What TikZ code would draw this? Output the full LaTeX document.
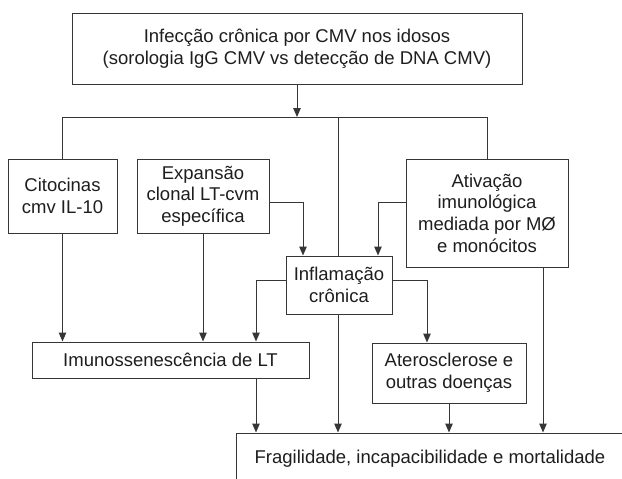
\documentclass[tikz,border=0pt]{standalone}
\usepackage{fontspec}
\setmainfont{Liberation Sans}
\usetikzlibrary{arrows.meta}
\definecolor{linec}{HTML}{363636}
\definecolor{txtc}{HTML}{1E1E1E}
\begin{document}
\begin{tikzpicture}[x=1pt,y=-1pt,
  box/.style={draw=linec, line width=1pt, align=center, inner sep=0pt, text=txtc,
    font=\fontsize{18.5}{21.7}\selectfont},
  arr/.style={draw=linec, line width=1pt, -{Triangle[width=7.5pt,length=9pt]}},
  ln/.style={draw=linec, line width=1pt}]
\clip (0,0) rectangle (622,479);
\fill[white] (0,0) rectangle (622,479);
% boxes
\node[box, minimum width=450pt, minimum height=71pt] (top) at (297,48.5)
  {Infecção crônica por CMV nos idosos\\(sorologia IgG CMV vs detecção de DNA CMV)};
\node[box, minimum width=109pt, minimum height=74pt] (cito) at (62.5,196)
  {Citocinas\\cmv IL-10};
\node[box, minimum width=132pt, minimum height=74pt] (expa) at (203,196)
  {Expansão\\clonal LT-cvm\\específica};
\node[box, minimum width=162pt, minimum height=108pt] (ativ) at (487,213)
  {Ativação\\imunológica\\mediada por MØ\\e monócitos};
\node[box, minimum width=106pt, minimum height=58pt] (infl) at (339,285)
  {Inflamação\\crônica};
\node[box, minimum width=277pt, minimum height=36pt] (imuno) at (170.5,360)
  {Imunossenescência de LT};
\node[box, minimum width=154pt, minimum height=60pt] (ater) at (449,373)
  {Aterosclerose e\\outras doenças};
\node[box, minimum width=388pt, minimum height=52pt] (frag) at (430,459)
  {Fragilidade, incapacibilidade e mortalidade};
% guide coordinates
\coordinate (hc) at (338,117);
\coordinate (hr) at (487,117);
\coordinate (xE) at (303,202);
\coordinate (xW) at (378,202);
\coordinate (xL) at (256,280);
\coordinate (xR) at (427,280);
\coordinate (xB) at (543,0);
% connectors
\draw[arr] (top.south) -- (top.south |- hc);
\draw[ln] (cito.north) |- (hr) -- (ativ.north);
\draw[ln] (hc) -- (hc |- infl.north);
\draw[arr] (expa.east |- xE) -| (infl.north -| xE);
\draw[arr] (ativ.west |- xW) -| (infl.north -| xW);
\draw[arr] (cito.south) -- (cito.south |- imuno.north);
\draw[arr] (expa.south) -- (expa.south |- imuno.north);
\draw[arr] (infl.west |- xL) -| (imuno.north -| xL);
\draw[arr] (infl.east |- xR) -| (ater.north -| xR);
\draw[arr] (imuno.south -| xL) -- (frag.north -| xL);
\draw[arr] (infl.south -| hc) -- (frag.north -| hc);
\draw[arr] (ater.south) -- (ater.south |- frag.north);
\draw[arr] (ativ.south -| xB) -- (frag.north -| xB);
\end{tikzpicture}
\end{document}
